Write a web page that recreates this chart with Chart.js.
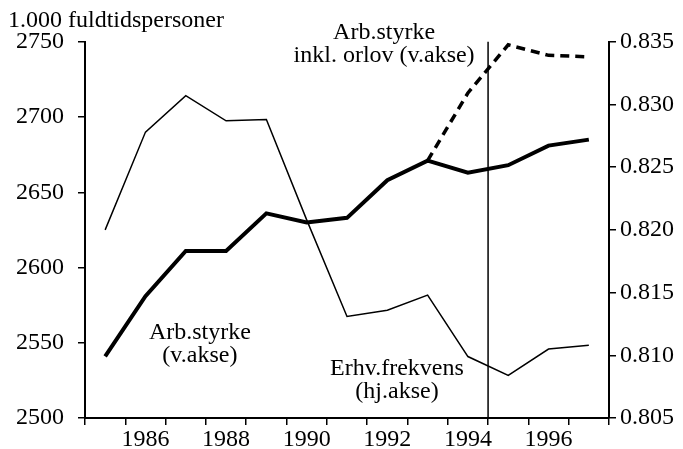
<!DOCTYPE html>
<html>
<head>
<meta charset="utf-8">
<script src="https://cdn.jsdelivr.net/npm/chart.js@4.4.1/dist/chart.umd.min.js"></script>
<style>
  html, body { margin: 0; padding: 0; background: #fff; }
  #wrap { width: 683px; height: 449px; position: relative; }
</style>
</head>
<body>
<div id="wrap"><canvas id="chart"></canvas></div>
<script>
// Data
const years = ['1985','1986','1987','1988','1989','1990','1991','1992','1993','1994','1995','1996','1997'];
const arbStyrke = [2541, 2581, 2611, 2611, 2636, 2630, 2633, 2658, 2671, 2663, 2668, 2681, 2685];
const arbStyrkeOrlov = [null, null, null, null, null, null, null, null, 2671, 2716, 2748, 2741, 2740];
const erhvFrekvens = [0.8200, 0.8278, 0.8307, 0.8287, 0.8288, 0.8208, 0.8131, 0.8136, 0.8148, 0.8099, 0.8084, 0.8105, 0.8108];
const leftTicks = [2500, 2750, 50];
const rightTicks = [0.805, 0.835, 0.005];
const breakAfter = '1994';

// text labels placed in data space: x = category index, y = left axis value
const notes = [
  { lines: ['Arb.styrke', 'inkl. orlov (v.akse)'], x: 6.92, y: 2756 },
  { lines: ['Arb.styrke', '(v.akse)'], x: 2.35, y: 2557 },
  { lines: ['Erhv.frekvens', '(hj.akse)'], x: 7.24, y: 2533 }
];

const FONT = '"Liberation Serif", "Times New Roman", serif';

const breakLine = {
  id: 'breakLine',
  afterDatasetsDraw(chart) {
    const { ctx, chartArea, scales } = chart;
    const i = years.indexOf(breakAfter);
    const x = (scales.x.getPixelForValue(i) + scales.x.getPixelForValue(i + 1)) / 2;
    ctx.save();
    ctx.strokeStyle = '#000';
    ctx.lineWidth = 1.5;
    ctx.beginPath();
    ctx.moveTo(x, chartArea.top);
    ctx.lineTo(x, chartArea.bottom);
    ctx.stroke();
    ctx.restore();
  }
};

const noteLabels = {
  id: 'noteLabels',
  afterDraw(chart) {
    const { ctx, scales } = chart;
    ctx.save();
    ctx.fillStyle = '#000';
    ctx.font = '24px ' + FONT;
    ctx.textAlign = 'center';
    ctx.textBaseline = 'middle';
    notes.forEach(n => {
      const x = scales.x.getPixelForValue(n.x);
      const y = scales.y.getPixelForValue(n.y);
      n.lines.forEach((t, k) => ctx.fillText(t, x, y + k * 23));
    });
    ctx.restore();
  }
};

const axisGrid = { drawOnChartArea: false, color: '#000', lineWidth: 1.5, tickLength: 7 };
const axisBorder = { display: true, color: '#000', width: 2 };
const tickFont = { size: 24, family: FONT };

new Chart(document.getElementById('chart'), {
  type: 'line',
  data: {
    labels: years,
    datasets: [
      {
        label: 'Arb.styrke',
        data: arbStyrke,
        yAxisID: 'y',
        borderColor: '#000',
        borderWidth: 4,
        pointRadius: 0,
        tension: 0
      },
      {
        label: 'Arb.styrke inkl. orlov',
        data: arbStyrkeOrlov,
        yAxisID: 'y',
        borderColor: '#000',
        borderWidth: 3.5,
        borderDash: [9, 6],
        pointRadius: 0,
        tension: 0
      },
      {
        label: 'Erhv.frekvens',
        data: erhvFrekvens,
        yAxisID: 'y2',
        borderColor: '#000',
        borderWidth: 1.5,
        pointRadius: 0,
        tension: 0
      }
    ]
  },
  options: {
    responsive: true,
    maintainAspectRatio: false,
    animation: false,
    layout: { padding: { left: 8, top: 0, right: 0, bottom: 0 }, autoPadding: false },
    plugins: {
      legend: { display: false },
      tooltip: { enabled: false },
      title: {
        display: true,
        text: '1.000 fuldtidspersoner',
        align: 'start',
        color: '#000',
        font: { size: 24, family: FONT, weight: 'normal' },
        padding: { top: 6, bottom: 7 }
      }
    },
    scales: {
      x: {
        offset: true,
        grid: { ...axisGrid, offset: true },
        border: axisBorder,
        ticks: {
          color: '#000',
          font: tickFont,
          padding: 0,
          autoSkip: false,
          maxRotation: 0,
          callback: (v, i) => (Number(years[i]) % 2 === 0 ? years[i] : '')
        },
        afterFit: s => { s.height = 31; }
      },
      y: {
        position: 'left',
        min: leftTicks[0], max: leftTicks[1],
        grid: axisGrid,
        border: axisBorder,
        ticks: { stepSize: leftTicks[2], color: '#000', font: tickFont, padding: 14, callback: v => String(v) },
        afterFit: s => { s.width = 77; }
      },
      y2: {
        position: 'right',
        min: rightTicks[0], max: rightTicks[1],
        grid: axisGrid,
        border: axisBorder,
        ticks: { stepSize: rightTicks[2], color: '#000', font: tickFont, padding: 4, callback: v => v.toFixed(3) },
        afterFit: s => { s.width = 74; }
      }
    }
  },
  plugins: [breakLine, noteLabels]
});
</script>
</body>
</html>
